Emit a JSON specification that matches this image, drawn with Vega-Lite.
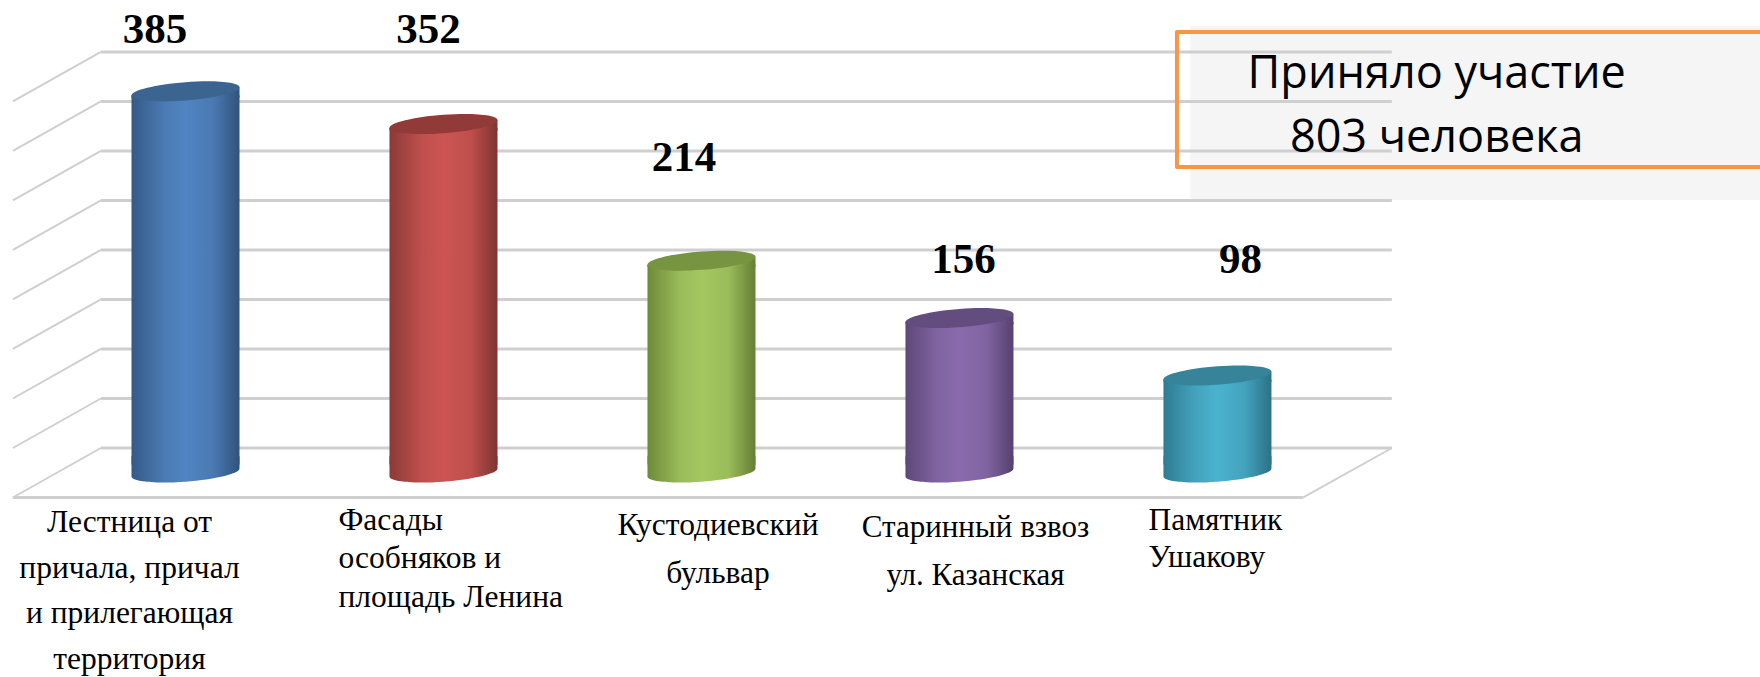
{"$schema":"https://vega.github.io/schema/vega-lite/v6.json","width":1760,"height":677,"padding":0,"autosize":{"type":"none"},"background":"white","config":{"axis":{"disable":true},"view":{"stroke":null},"legend":{"disable":true}},
"datasets":{"bars":[{"idx":1,"place":"Лестница от\nпричала,  причал\nи прилегающая\nтерритория","value":385},{"idx":2,"place":"Фасады\nособняков и\nплощадь Ленина","value":352},{"idx":3,"place":"Кустодиевский\nбульвар","value":214},{"idx":4,"place":"Старинный взвоз\nул. Казанская","value":156},{"idx":5,"place":"Памятник\nУшакову","value":98}],
"grid":[{"tick":0,"front":-50},{"tick":50,"front":0},{"tick":100,"front":50},{"tick":150,"front":100},{"tick":200,"front":150},{"tick":250,"front":200},{"tick":300,"front":250},{"tick":350,"front":300},{"tick":400,"front":350}],
"note":[{"note":"Приняло участие\n803 человека"}]},
"resolve":{"scale":{"y":"independent"}},
"layer":[
{"layer":[
{"data":{"name":"note"},"mark":{"type":"rect","color":"#F5F5F5"},"encoding":{"x":{"datum":4.895,"type":"quantitative","scale":{"domain":[0.281,7.103],"nice":false,"zero":false,"padding":0}},"x2":{"datum":7.2},"y":{"datum":426.3,"type":"quantitative","scale":{"domain":[-231.3,452.5],"nice":false,"zero":false}},"y2":{"datum":250.5}}},
{"data":{"name":"grid"},"mark":{"type":"rule","color":"#CFCFCF","strokeWidth":3},"encoding":{"x":{"datum":0.672,"type":"quantitative","scale":{"domain":[0.281,7.103],"nice":false,"zero":false,"padding":0}},"x2":{"datum":5.676},"y":{"field":"tick","type":"quantitative","scale":{"domain":[-231.3,452.5],"nice":false,"zero":false}}}},
{"data":{"name":"grid"},"mark":{"type":"rule","color":"#CFCFCF","strokeWidth":2},"encoding":{"x":{"datum":0.672,"type":"quantitative","scale":{"domain":[0.281,7.103],"nice":false,"zero":false,"padding":0}},"x2":{"datum":0.331},"y":{"field":"tick","type":"quantitative","scale":{"domain":[-231.3,452.5],"nice":false,"zero":false}},"y2":{"field":"front"}}},
{"data":{"name":"note"},"mark":{"type":"rule","color":"#CFCFCF","strokeWidth":3},"encoding":{"x":{"datum":0.331,"type":"quantitative","scale":{"domain":[0.281,7.103],"nice":false,"zero":false,"padding":0}},"x2":{"datum":5.331},"y":{"datum":-50,"type":"quantitative","scale":{"domain":[-231.3,452.5],"nice":false,"zero":false}}}},
{"data":{"name":"note"},"mark":{"type":"rule","color":"#CFCFCF","strokeWidth":2},"encoding":{"x":{"datum":5.331,"type":"quantitative","scale":{"domain":[0.281,7.103],"nice":false,"zero":false,"padding":0}},"x2":{"datum":5.676},"y":{"datum":-50,"type":"quantitative","scale":{"domain":[-231.3,452.5],"nice":false,"zero":false}},"y2":{"datum":0}}},
{"data":{"name":"note"},"mark":{"type":"rect","fillOpacity":0,"stroke":"#F79646","strokeWidth":4,"strokeJoin":"round"},"encoding":{"x":{"datum":4.843,"type":"quantitative","scale":{"domain":[0.281,7.103],"nice":false,"zero":false,"padding":0}},"x2":{"datum":7.2},"y":{"datum":420.2,"type":"quantitative","scale":{"domain":[-231.3,452.5],"nice":false,"zero":false}},"y2":{"datum":283.8}}},
{"data":{"name":"note"},"mark":{"type":"text","font":"Open Sans","fontSize":45,"color":"#000000","lineBreak":"\n","lineHeight":64,"align":"center","baseline":"middle"},"encoding":{"text":{"field":"note"},"x":{"datum":5.85,"type":"quantitative","scale":{"domain":[0.281,7.103],"nice":false,"zero":false,"padding":0}},"y":{"datum":377.5,"type":"quantitative","scale":{"domain":[-231.3,452.5],"nice":false,"zero":false}}}}
]},
{"data":{"name":"bars"},"encoding":{"x":{"field":"idx","type":"quantitative","scale":{"domain":[0.281,7.103],"nice":false,"zero":false,"padding":0}},"y":{"field":"value","type":"quantitative","scale":{"domain":[-206.6,477.3],"nice":false,"zero":false}}},
"layer":[
{"transform":[{"filter":"datum.idx==1"}],"layer":[
{"mark":{"type":"point","filled":true,"opacity":1,"size":11664,"shape":"M1,-0.3L1,-0.074C1,0.0199 0.5523,0.1291 0,0.17C-0.5523,0.2109 -1,0.1679 -1,0.074L-1,-0.3Z","color":{"gradient":"linear","x1":0,"y1":0,"x2":1,"y2":0,"stops":[{"offset":0,"color":"#345A87"},{"offset":0.3,"color":"#4A7AB3"},{"offset":0.5,"color":"#5084C2"},{"offset":0.75,"color":"#4A7AB3"},{"offset":1,"color":"#30537D"}]}},"encoding":{"y":{"datum":0,"type":"quantitative","scale":{"domain":[-206.6,477.3],"nice":false,"zero":false}}}},
{"mark":{"type":"bar","width":108,"yOffset":4,"color":{"gradient":"linear","x1":0,"y1":0,"x2":1,"y2":0,"stops":[{"offset":0,"color":"#345A87"},{"offset":0.3,"color":"#4A7AB3"},{"offset":0.5,"color":"#5084C2"},{"offset":0.75,"color":"#4A7AB3"},{"offset":1,"color":"#30537D"}]}},"encoding":{"y2":{"datum":8}}},
{"mark":{"type":"point","filled":true,"opacity":1,"size":11664,"shape":"M-1,0.074L1,-0.074L1,0.12L-1,0.12Z","color":{"gradient":"linear","x1":0,"y1":0,"x2":1,"y2":0,"stops":[{"offset":0,"color":"#345A87"},{"offset":0.3,"color":"#4A7AB3"},{"offset":0.5,"color":"#5084C2"},{"offset":0.75,"color":"#4A7AB3"},{"offset":1,"color":"#30537D"}]}}},
{"mark":{"type":"point","filled":true,"opacity":1,"size":11664,"color":"#3C6490","shape":"M1,-0.074C1,0.0199 0.5523,0.1291 0,0.17C-0.5523,0.2109 -1,0.1679 -1,0.074C-1,-0.0199 -0.5523,-0.1291 0,-0.17C0.5523,-0.2109 1,-0.1679 1,-0.074Z"}},
{"mark":{"type":"text","font":"Liberation Serif","fontWeight":"bold","fontSize":43,"color":"#000000","dx":-30.5,"dy":-61,"baseline":"middle"},"encoding":{"text":{"field":"value","type":"quantitative"}}},
{"mark":{"type":"text","font":"Liberation Serif","fontSize":31.5,"color":"#000000","lineBreak":"\n","lineHeight":45.5,"align":"center","baseline":"alphabetic","dx":-56,"dy":60},"encoding":{"text":{"field":"place"},"y":{"datum":0,"type":"quantitative","scale":{"domain":[-206.6,477.3],"nice":false,"zero":false}}}}
]},
{"transform":[{"filter":"datum.idx==2"}],"layer":[
{"mark":{"type":"point","filled":true,"opacity":1,"size":11664,"shape":"M1,-0.3L1,-0.074C1,0.0199 0.5523,0.1291 0,0.17C-0.5523,0.2109 -1,0.1679 -1,0.074L-1,-0.3Z","color":{"gradient":"linear","x1":0,"y1":0,"x2":1,"y2":0,"stops":[{"offset":0,"color":"#8A3A38"},{"offset":0.3,"color":"#BF4F4C"},{"offset":0.5,"color":"#CC5553"},{"offset":0.75,"color":"#BF4F4C"},{"offset":1,"color":"#7E3432"}]}},"encoding":{"y":{"datum":0,"type":"quantitative","scale":{"domain":[-206.6,477.3],"nice":false,"zero":false}}}},
{"mark":{"type":"bar","width":108,"yOffset":4,"color":{"gradient":"linear","x1":0,"y1":0,"x2":1,"y2":0,"stops":[{"offset":0,"color":"#8A3A38"},{"offset":0.3,"color":"#BF4F4C"},{"offset":0.5,"color":"#CC5553"},{"offset":0.75,"color":"#BF4F4C"},{"offset":1,"color":"#7E3432"}]}},"encoding":{"y2":{"datum":8}}},
{"mark":{"type":"point","filled":true,"opacity":1,"size":11664,"shape":"M-1,0.074L1,-0.074L1,0.12L-1,0.12Z","color":{"gradient":"linear","x1":0,"y1":0,"x2":1,"y2":0,"stops":[{"offset":0,"color":"#8A3A38"},{"offset":0.3,"color":"#BF4F4C"},{"offset":0.5,"color":"#CC5553"},{"offset":0.75,"color":"#BF4F4C"},{"offset":1,"color":"#7E3432"}]}}},
{"mark":{"type":"point","filled":true,"opacity":1,"size":11664,"color":"#913A38","shape":"M1,-0.074C1,0.0199 0.5523,0.1291 0,0.17C-0.5523,0.2109 -1,0.1679 -1,0.074C-1,-0.0199 -0.5523,-0.1291 0,-0.17C0.5523,-0.2109 1,-0.1679 1,-0.074Z"}},
{"mark":{"type":"text","font":"Liberation Serif","fontWeight":"bold","fontSize":43,"color":"#000000","dx":-15,"dy":-94,"baseline":"middle"},"encoding":{"text":{"field":"value","type":"quantitative"}}},
{"mark":{"type":"text","font":"Liberation Serif","fontSize":31.5,"color":"#000000","lineBreak":"\n","lineHeight":38.5,"align":"left","baseline":"alphabetic","dx":-105,"dy":57.5},"encoding":{"text":{"field":"place"},"y":{"datum":0,"type":"quantitative","scale":{"domain":[-206.6,477.3],"nice":false,"zero":false}}}}
]},
{"transform":[{"filter":"datum.idx==3"}],"layer":[
{"mark":{"type":"point","filled":true,"opacity":1,"size":11664,"shape":"M1,-0.3L1,-0.074C1,0.0199 0.5523,0.1291 0,0.17C-0.5523,0.2109 -1,0.1679 -1,0.074L-1,-0.3Z","color":{"gradient":"linear","x1":0,"y1":0,"x2":1,"y2":0,"stops":[{"offset":0,"color":"#6E8A39"},{"offset":0.3,"color":"#9ABC59"},{"offset":0.5,"color":"#A5C760"},{"offset":0.75,"color":"#9ABC59"},{"offset":1,"color":"#667F35"}]}},"encoding":{"y":{"datum":0,"type":"quantitative","scale":{"domain":[-206.6,477.3],"nice":false,"zero":false}}}},
{"mark":{"type":"bar","width":108,"yOffset":4,"color":{"gradient":"linear","x1":0,"y1":0,"x2":1,"y2":0,"stops":[{"offset":0,"color":"#6E8A39"},{"offset":0.3,"color":"#9ABC59"},{"offset":0.5,"color":"#A5C760"},{"offset":0.75,"color":"#9ABC59"},{"offset":1,"color":"#667F35"}]}},"encoding":{"y2":{"datum":8}}},
{"mark":{"type":"point","filled":true,"opacity":1,"size":11664,"shape":"M-1,0.074L1,-0.074L1,0.12L-1,0.12Z","color":{"gradient":"linear","x1":0,"y1":0,"x2":1,"y2":0,"stops":[{"offset":0,"color":"#6E8A39"},{"offset":0.3,"color":"#9ABC59"},{"offset":0.5,"color":"#A5C760"},{"offset":0.75,"color":"#9ABC59"},{"offset":1,"color":"#667F35"}]}}},
{"mark":{"type":"point","filled":true,"opacity":1,"size":11664,"color":"#779441","shape":"M1,-0.074C1,0.0199 0.5523,0.1291 0,0.17C-0.5523,0.2109 -1,0.1679 -1,0.074C-1,-0.0199 -0.5523,-0.1291 0,-0.17C0.5523,-0.2109 1,-0.1679 1,-0.074Z"}},
{"mark":{"type":"text","font":"Liberation Serif","fontWeight":"bold","fontSize":43,"color":"#000000","dx":-17.5,"dy":-103,"baseline":"middle"},"encoding":{"text":{"field":"value","type":"quantitative"}}},
{"mark":{"type":"text","font":"Liberation Serif","fontSize":31.5,"color":"#000000","lineBreak":"\n","lineHeight":48,"align":"center","baseline":"alphabetic","dx":16.5,"dy":62.5},"encoding":{"text":{"field":"place"},"y":{"datum":0,"type":"quantitative","scale":{"domain":[-206.6,477.3],"nice":false,"zero":false}}}}
]},
{"transform":[{"filter":"datum.idx==4"}],"layer":[
{"mark":{"type":"point","filled":true,"opacity":1,"size":11664,"shape":"M1,-0.3L1,-0.074C1,0.0199 0.5523,0.1291 0,0.17C-0.5523,0.2109 -1,0.1679 -1,0.074L-1,-0.3Z","color":{"gradient":"linear","x1":0,"y1":0,"x2":1,"y2":0,"stops":[{"offset":0,"color":"#5E4878"},{"offset":0.3,"color":"#8064A2"},{"offset":0.5,"color":"#8A6BAD"},{"offset":0.75,"color":"#8064A2"},{"offset":1,"color":"#56416E"}]}},"encoding":{"y":{"datum":0,"type":"quantitative","scale":{"domain":[-206.6,477.3],"nice":false,"zero":false}}}},
{"mark":{"type":"bar","width":108,"yOffset":4,"color":{"gradient":"linear","x1":0,"y1":0,"x2":1,"y2":0,"stops":[{"offset":0,"color":"#5E4878"},{"offset":0.3,"color":"#8064A2"},{"offset":0.5,"color":"#8A6BAD"},{"offset":0.75,"color":"#8064A2"},{"offset":1,"color":"#56416E"}]}},"encoding":{"y2":{"datum":8}}},
{"mark":{"type":"point","filled":true,"opacity":1,"size":11664,"shape":"M-1,0.074L1,-0.074L1,0.12L-1,0.12Z","color":{"gradient":"linear","x1":0,"y1":0,"x2":1,"y2":0,"stops":[{"offset":0,"color":"#5E4878"},{"offset":0.3,"color":"#8064A2"},{"offset":0.5,"color":"#8A6BAD"},{"offset":0.75,"color":"#8064A2"},{"offset":1,"color":"#56416E"}]}}},
{"mark":{"type":"point","filled":true,"opacity":1,"size":11664,"color":"#634C7E","shape":"M1,-0.074C1,0.0199 0.5523,0.1291 0,0.17C-0.5523,0.2109 -1,0.1679 -1,0.074C-1,-0.0199 -0.5523,-0.1291 0,-0.17C0.5523,-0.2109 1,-0.1679 1,-0.074Z"}},
{"mark":{"type":"text","font":"Liberation Serif","fontWeight":"bold","fontSize":43,"color":"#000000","dx":4,"dy":-58,"baseline":"middle"},"encoding":{"text":{"field":"value","type":"quantitative"}}},
{"mark":{"type":"text","font":"Liberation Serif","fontSize":31,"color":"#000000","lineBreak":"\n","lineHeight":48,"align":"center","baseline":"alphabetic","dx":16,"dy":64.5},"encoding":{"text":{"field":"place"},"y":{"datum":0,"type":"quantitative","scale":{"domain":[-206.6,477.3],"nice":false,"zero":false}}}}
]},
{"transform":[{"filter":"datum.idx==5"}],"layer":[
{"mark":{"type":"point","filled":true,"opacity":1,"size":11664,"shape":"M1,-0.3L1,-0.074C1,0.0199 0.5523,0.1291 0,0.17C-0.5523,0.2109 -1,0.1679 -1,0.074L-1,-0.3Z","color":{"gradient":"linear","x1":0,"y1":0,"x2":1,"y2":0,"stops":[{"offset":0,"color":"#2F7C92"},{"offset":0.3,"color":"#43A3BE"},{"offset":0.5,"color":"#4BB3CF"},{"offset":0.75,"color":"#43A3BE"},{"offset":1,"color":"#2B7186"}]}},"encoding":{"y":{"datum":0,"type":"quantitative","scale":{"domain":[-206.6,477.3],"nice":false,"zero":false}}}},
{"mark":{"type":"bar","width":108,"yOffset":4,"color":{"gradient":"linear","x1":0,"y1":0,"x2":1,"y2":0,"stops":[{"offset":0,"color":"#2F7C92"},{"offset":0.3,"color":"#43A3BE"},{"offset":0.5,"color":"#4BB3CF"},{"offset":0.75,"color":"#43A3BE"},{"offset":1,"color":"#2B7186"}]}},"encoding":{"y2":{"datum":8}}},
{"mark":{"type":"point","filled":true,"opacity":1,"size":11664,"shape":"M-1,0.074L1,-0.074L1,0.12L-1,0.12Z","color":{"gradient":"linear","x1":0,"y1":0,"x2":1,"y2":0,"stops":[{"offset":0,"color":"#2F7C92"},{"offset":0.3,"color":"#43A3BE"},{"offset":0.5,"color":"#4BB3CF"},{"offset":0.75,"color":"#43A3BE"},{"offset":1,"color":"#2B7186"}]}}},
{"mark":{"type":"point","filled":true,"opacity":1,"size":11664,"color":"#378399","shape":"M1,-0.074C1,0.0199 0.5523,0.1291 0,0.17C-0.5523,0.2109 -1,0.1679 -1,0.074C-1,-0.0199 -0.5523,-0.1291 0,-0.17C0.5523,-0.2109 1,-0.1679 1,-0.074Z"}},
{"mark":{"type":"text","font":"Liberation Serif","fontWeight":"bold","fontSize":43,"color":"#000000","dx":23,"dy":-115.5,"baseline":"middle"},"encoding":{"text":{"field":"value","type":"quantitative"}}},
{"mark":{"type":"text","font":"Liberation Serif","fontSize":31.5,"color":"#000000","lineBreak":"\n","lineHeight":37.5,"align":"left","baseline":"alphabetic","dx":-69,"dy":57.5},"encoding":{"text":{"field":"place"},"y":{"datum":0,"type":"quantitative","scale":{"domain":[-206.6,477.3],"nice":false,"zero":false}}}}
]}
]}
]}
